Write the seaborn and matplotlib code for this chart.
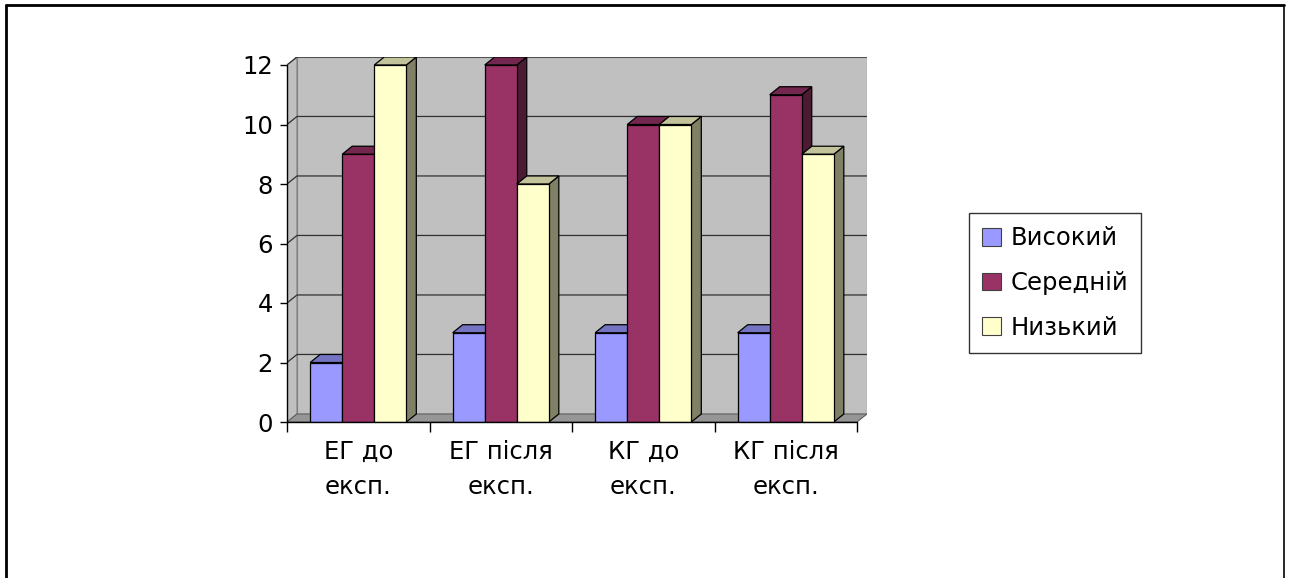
import numpy as np
import pandas as pd
import matplotlib
matplotlib.use("Agg")
import matplotlib.pyplot as plt
from matplotlib.patches import Polygon, Rectangle
from matplotlib.lines import Line2D
from matplotlib.colors import to_rgb
import seaborn as sns

groups = ["ЕГ до\nексп.", "ЕГ після\nексп.", "КГ до\nексп.", "КГ після\nексп."]
levels = ["Високий", "Середній", "Низький"]
high = [2, 3, 3, 3]
middle = [9, 12, 10, 11]
low = [12, 8, 10, 9]
colors = ["#9999FF", "#993366", "#FFFFCC"]

df = pd.DataFrame({
    "group": groups * 3,
    "level": [levels[0]] * 4 + [levels[1]] * 4 + [levels[2]] * 4,
    "value": high + middle + low,
})

sns.set_style("white", {"text.color": "black", "xtick.color": "black", "ytick.color": "black"})
plt.rcParams["font.family"] = ["DejaVu Sans"]

fig = plt.figure(figsize=(12.89, 5.78), dpi=100)
ax = fig.add_axes([287 / 1289, 1 - 422 / 578, 580 / 1289, 365 / 578])

sns.barplot(data=df, x="group", y="value", hue="level", palette=colors, saturation=1,
            width=0.675, edgecolor="black", linewidth=0.9, legend=False, ax=ax)

dx, dy = 0.07, 0.27
ax.set_xlim(-0.5, 3.5 + 580 / 142.5 - 4)
ax.set_ylim(0, 365 / 29.75)

# walls and floor
wall = "#C0C0C0"
ax.add_patch(Polygon([(-0.5 + dx, dy), (3.5 + dx, dy), (3.5 + dx, 12 + dy), (-0.5 + dx, 12 + dy)],
                     closed=True, facecolor=wall, edgecolor="#808080", lw=0.8, zorder=0.5))
ax.add_patch(Polygon([(-0.5, 0), (-0.5 + dx, dy), (-0.5 + dx, 12 + dy), (-0.5, 12)],
                     closed=True, facecolor=wall, edgecolor="#808080", lw=0.8, zorder=0.5))
ax.add_patch(Polygon([(-0.5, 0), (3.5, 0), (3.5 + dx, dy), (-0.5 + dx, dy)],
                     closed=True, facecolor="#969696", edgecolor="#606060", lw=0.8, zorder=0.6))
for y in range(2, 13, 2):
    ax.plot([-0.5, -0.5 + dx, 3.5 + dx], [y, y + dy, y + dy], color="#303030", lw=0.9, zorder=0.8)

# 3D faces for bars
bars = [p for p in ax.patches if isinstance(p, Rectangle)]
for p in bars:
    fc = np.array(p.get_facecolor()[:3])
    k = int(np.argmin([np.sum((fc - np.array(to_rgb(c))) ** 2) for c in colors]))
    x0, w, h = p.get_x(), p.get_width(), p.get_height()
    x1 = x0 + w
    p.set_zorder(3 + 2 * k + 1)
    ax.add_patch(Polygon([(x1, 0), (x1 + dx, dy), (x1 + dx, h + dy), (x1, h)], closed=True,
                         facecolor=fc * 0.5, edgecolor="black", lw=0.9, zorder=3 + 2 * k))
    ax.add_patch(Polygon([(x0, h), (x1, h), (x1 + dx, h + dy), (x0 + dx, h + dy)], closed=True,
                         facecolor=fc * 0.76, edgecolor="black", lw=0.9, zorder=3 + 2 * k))

for s in ax.spines.values():
    s.set_visible(False)
ax.plot([-0.5, -0.5], [0, 12], color="black", lw=1, zorder=20, clip_on=False)
ax.plot([-0.5, 3.5], [0, 0], color="black", lw=1, zorder=20, clip_on=False)

ax.set_yticks(range(0, 13, 2))
ax.tick_params(axis="y", length=5, width=1, labelsize=17.5, pad=5, left=True, colors="black")
ax.set_xticks(range(4))
ax.set_xticklabels(groups, linespacing=1.6)
ax.tick_params(axis="x", length=0, labelsize=17.5, pad=13, colors="black")
ax.set_xticks([-0.5, 0.5, 1.5, 2.5, 3.5], minor=True)
ax.tick_params(axis="x", which="minor", length=7, width=1, bottom=True, colors="black")
ax.set_xlabel("")
ax.set_ylabel("")
ax.grid(False)

handles = [Rectangle((0, 0), 1, 1, facecolor=c, edgecolor="#404040", lw=0.8) for c in colors]
leg = fig.legend(handles, levels, loc="upper left", bbox_to_anchor=(969 / 1289, 1 - 213 / 578),
                 fontsize=17.5, frameon=True, fancybox=False, edgecolor="black",
                 handlelength=0.75, handleheight=0.75, handletextpad=0.4, labelspacing=0.85,
                 borderpad=0.55, borderaxespad=0)
leg.get_frame().set_linewidth(1)
for t in leg.get_texts():
    t.set_color("black")

# outer frame
fig.add_artist(Line2D([6 / 1289, 6 / 1289], [0, 1 - 5 / 578], color="black", lw=2, transform=fig.transFigure))
fig.add_artist(Line2D([6 / 1289, 1284 / 1289], [1 - 5 / 578, 1 - 5 / 578], color="black", lw=2, transform=fig.transFigure))
fig.add_artist(Line2D([1284 / 1289, 1284 / 1289], [0, 1 - 5 / 578], color="black", lw=1.2, transform=fig.transFigure))

fig.savefig("out.png", dpi=100)
